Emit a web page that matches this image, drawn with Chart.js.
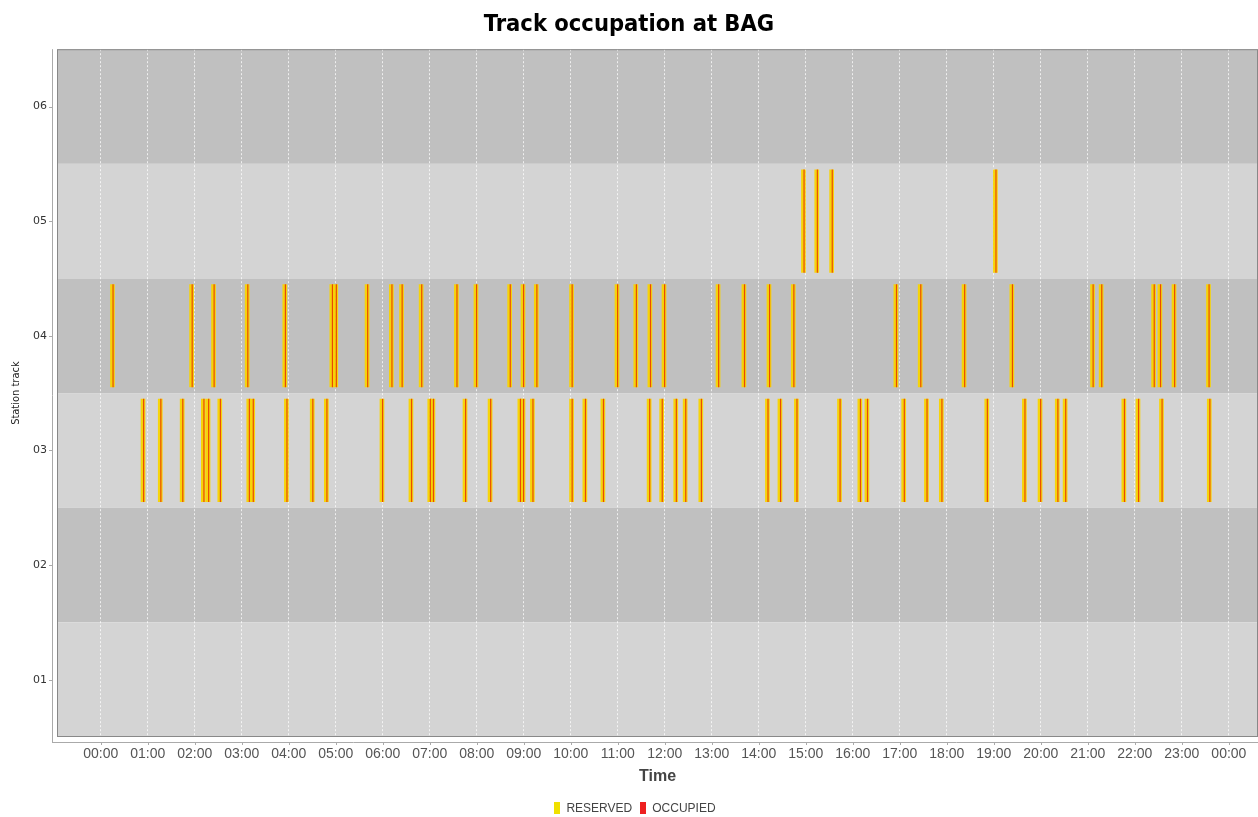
<!DOCTYPE html>
<html>
<head>
<meta charset="utf-8">
<script src="https://cdn.jsdelivr.net/npm/chart.js@4.4.1/dist/chart.umd.min.js"></script>
<style>
  html, body { margin: 0; padding: 0; background: #fff; }
  #wrap { width: 1258px; height: 817px; }
</style>
</head>
<body>
<div id="wrap"><canvas id="myChart"></canvas></div>
<script>
// station tracks, top to bottom
const tracks = ['06', '05', '04', '03', '02', '01'];
// hour ticks
const hourLabels = ['00:00','01:00','02:00','03:00','04:00','05:00','06:00','07:00','08:00','09:00','10:00','11:00',
  '12:00','13:00','14:00','15:00','16:00','17:00','18:00','19:00','20:00','21:00','22:00','23:00','00:00'];
const seriesNames = ['RESERVED', 'OCCUPIED'];

// train times per track
const track05 = ['14:57', '15:14', '15:33', '19:02'];
const track04 = ['00:15', '01:56', '02:24', '03:07', '03:55', '04:55', '05:00', '05:40', '06:11', '06:24',
  '06:49', '07:34', '07:59', '08:42', '08:59', '09:16', '10:01', '10:59', '11:23', '11:41', '11:59',
  '13:08', '13:41', '14:13', '14:44', '16:55', '17:26', '18:22', '19:23', '21:06', '21:17', '22:24',
  '22:32', '22:50', '23:34'];
const track03 = ['00:54', '01:16', '01:44', '02:11', '02:17', '02:32', '03:09', '03:14', '03:57', '04:30',
  '04:48', '05:59', '06:36', '07:00', '07:04', '07:45', '08:17', '08:55', '08:59', '09:11', '10:01',
  '10:18', '10:41', '11:40', '11:56', '12:14', '12:26', '12:46', '14:11', '14:27', '14:48', '15:43',
  '16:09', '16:18', '17:05', '17:34', '17:53', '18:51', '19:39', '19:59', '20:21', '20:31', '21:46',
  '22:04', '22:34', '23:35'];

// reserved / occupied windows around each train, in minutes
const reservedBefore = 3, reservedAfter = 3;
const occupiedBefore = 0, occupiedAfter = 1.5;

const byTrack = { '05': track05, '04': track04, '03': track03 };

function toHours(s) {
  const [h, m] = s.split(':').map(Number);
  return h + m / 60;
}

const reservedData = [];
const occupiedData = [];
Object.keys(byTrack).forEach(tr => {
  byTrack[tr].forEach(t => {
    const h = toHours(t);
    reservedData.push({ x: [h - reservedBefore / 60, h + reservedAfter / 60], y: tr });
    occupiedData.push({ x: [h - occupiedBefore / 60, h + occupiedAfter / 60], y: tr });
  });
});

const legendColors = ['#f0e000', '#ee2020'];

const bandsPlugin = {
  id: 'bands',
  beforeDraw(chart) {
    const { ctx, chartArea: a, scales: { y } } = chart;
    const step = y.getPixelForValue(1) - y.getPixelForValue(0);
    ctx.save();
    tracks.forEach((t, i) => {
      const c = y.getPixelForValue(i);
      ctx.fillStyle = i % 2 === 0 ? '#c0c0c0' : '#d4d4d4';
      ctx.fillRect(a.left, c - step / 2, a.right - a.left, step);
    });
    ctx.restore();
  },
  afterDraw(chart) {
    const { ctx, chartArea: a, scales: { x, y } } = chart;
    ctx.save();
    ctx.strokeStyle = '#888';
    ctx.lineWidth = 1;
    ctx.strokeRect(a.left + 0.5, a.top + 0.5, a.right - a.left - 1, a.bottom - a.top - 1);
    // offset axis lines
    ctx.strokeStyle = '#aaa';
    ctx.beginPath();
    ctx.moveTo(a.left - 4.5, a.top);
    ctx.lineTo(a.left - 4.5, a.bottom + 5);
    ctx.moveTo(a.left - 5, a.bottom + 5.5);
    ctx.lineTo(a.right, a.bottom + 5.5);
    tracks.forEach((t, i) => {
      const c = Math.round(y.getPixelForValue(i)) + 0.5;
      ctx.moveTo(a.left - 8, c);
      ctx.lineTo(a.left - 4, c);
    });
    for (let h = 0; h <= 24; h++) {
      const px = Math.round(x.getPixelForValue(h)) + 0.5;
      ctx.moveTo(px, a.bottom + 5);
      ctx.lineTo(px, a.bottom + 8);
    }
    ctx.stroke();

    // legend row at the bottom
    ctx.font = "12px 'Liberation Sans', sans-serif";
    ctx.textBaseline = 'middle';
    const boxW = 6, gap = 6, sep = 8;
    const widths = seriesNames.map(n => ctx.measureText(n).width);
    const total = widths.reduce((s, w) => s + boxW + gap + w, 0) + sep * (seriesNames.length - 1);
    let lx = chart.width / 2 - total / 2 + 6;
    const ly = 808;
    seriesNames.forEach((n, i) => {
      ctx.fillStyle = legendColors[i];
      ctx.fillRect(Math.round(lx), ly - 6, boxW, 12);
      ctx.fillStyle = '#444';
      ctx.fillText(n, lx + boxW + gap, ly + 0.5);
      lx += boxW + gap + widths[i] + sep;
    });
    ctx.restore();
  }
};

const ctx = document.getElementById('myChart').getContext('2d');
const myChart = new Chart(ctx, {
  type: 'bar',
  data: {
    labels: tracks,
    datasets: [{
      label: seriesNames[0],
      data: reservedData,
      backgroundColor: 'rgba(248, 212, 0, 0.95)',
      borderWidth: 0,
      grouped: false,
      order: 2
    }, {
      label: seriesNames[1],
      data: occupiedData,
      backgroundColor: 'rgba(230, 40, 0, 0.8)',
      borderWidth: 0,
      grouped: false,
      order: 1
    }]
  },
  options: {
    indexAxis: 'y',
    responsive: true,
    maintainAspectRatio: false,
    animation: false,
    barPercentage: 0.9,
    categoryPercentage: 1,
    layout: { padding: { left: 0, right: 0, top: 0, bottom: 22 } },
    plugins: {
      title: {
        display: true,
        text: 'Track occupation at BAG',
        color: '#000',
        font: { family: "'DejaVu Sans Condensed', 'DejaVu Sans', sans-serif", size: 23.5, weight: 'bold' },
        padding: { top: 11, bottom: 10 }
      },
      legend: { display: false },
      tooltip: { enabled: false }
    },
    scales: {
      x: {
        type: 'linear',
        min: -0.93,
        max: 24.62,
        grid: { color: 'rgba(255,255,255,0.75)', drawTicks: false },
        border: { display: false, dash: [2, 2] },
        ticks: {
          stepSize: 1,
          includeBounds: false,
          autoSkip: false,
          maxRotation: 0,
          padding: 9,
          color: '#555',
          font: { family: "'Liberation Sans', sans-serif", size: 14 },
          callback: v => hourLabels[v]
        },
        title: {
          display: true,
          text: 'Time',
          color: '#444',
          font: { family: "'Liberation Sans', sans-serif", size: 16, weight: 'bold' },
          padding: { top: 9, bottom: 9 }
        },
        afterFit(scale) { scale.height = 58; }
      },
      y: {
        type: 'category',
        grid: { display: false, drawTicks: false },
        border: { display: false },
        ticks: {
          padding: 10,
          color: '#333',
          font: { family: "'DejaVu Sans', sans-serif", size: 11 }
        },
        title: {
          display: true,
          text: 'Station track',
          color: '#222',
          font: { family: "'DejaVu Sans Condensed', 'Liberation Sans', sans-serif", size: 11 },
          padding: { top: 10, bottom: 10 }
        },
        afterFit(scale) { scale.width = 57; }
      }
    }
  },
  plugins: [bandsPlugin]
});
</script>
</body>
</html>
